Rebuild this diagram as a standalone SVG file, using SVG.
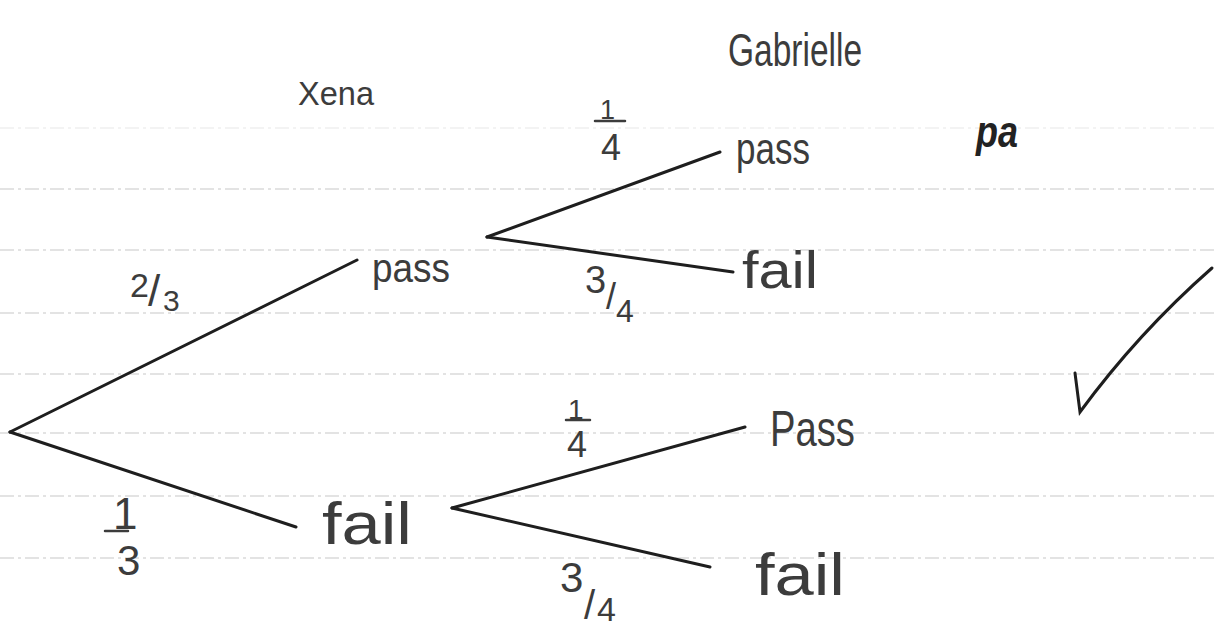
<svg xmlns="http://www.w3.org/2000/svg" width="1216" height="633" viewBox="0 0 1216 633">
<style>
.rule{stroke:#dadada;stroke-width:1.5;stroke-dasharray:14 4 3 4}
.t{font-family:"Liberation Sans","DejaVu Sans",sans-serif;fill:#3c3c3c}
.br{stroke:#1e1e1e;stroke-width:3;fill:none;stroke-linecap:round}
.bar{stroke:#3c3c3c;stroke-width:2.5;stroke-linecap:round}
</style>
<rect width="1216" height="633" fill="#ffffff"/>
<g id="rules">
<line class="rule" x1="0" y1="128" x2="1216" y2="128" opacity="0.4"/>
<line class="rule" x1="0" y1="189" x2="1216" y2="189"/>
<line class="rule" x1="0" y1="250" x2="1216" y2="250"/>
<line class="rule" x1="0" y1="313" x2="1216" y2="313"/>
<line class="rule" x1="0" y1="374" x2="1216" y2="374"/>
<line class="rule" x1="0" y1="433" x2="1216" y2="433"/>
<line class="rule" x1="0" y1="496" x2="1216" y2="496"/>
<line class="rule" x1="0" y1="558" x2="1216" y2="558"/>
</g>
<g id="connectors">
<line class="br" x1="10" y1="432" x2="357" y2="260"/>
<line class="br" x1="10" y1="432" x2="296" y2="527"/>
<line class="br" x1="487" y1="237" x2="720" y2="152"/>
<line class="br" x1="487" y1="237" x2="733" y2="272"/>
<line class="br" x1="452" y1="508" x2="745" y2="427"/>
<line class="br" x1="452" y1="508" x2="710" y2="567"/>
</g>
<g id="heading-xena"><text class="t" x="298" y="105" font-size="34" textLength="76" lengthAdjust="spacingAndGlyphs">Xena</text></g>
<g id="heading-gabrielle"><text class="t" x="728" y="66" font-size="46" textLength="134" lengthAdjust="spacingAndGlyphs">Gabrielle</text></g>
<g id="node-x-pass"><text class="t" x="372" y="282" font-size="40" textLength="78" lengthAdjust="spacingAndGlyphs">pass</text></g>
<g id="node-x-fail"><text class="t" x="322" y="544" font-size="60" textLength="90" lengthAdjust="spacingAndGlyphs">fail</text></g>
<g id="node-g-pass1"><text class="t" x="736" y="164" font-size="44" textLength="74" lengthAdjust="spacingAndGlyphs">pass</text></g>
<g id="node-g-fail1"><text class="t" x="742" y="288" font-size="52" textLength="76" lengthAdjust="spacingAndGlyphs">fail</text></g>
<g id="node-g-pass2"><text class="t" x="770" y="446" font-size="50" textLength="85" lengthAdjust="spacingAndGlyphs">Pass</text></g>
<g id="node-g-fail2"><text class="t" x="755" y="595" font-size="60" textLength="90" lengthAdjust="spacingAndGlyphs">fail</text></g>
<g id="labels">
<text class="t" x="130" y="297" font-size="34">2</text>
<text class="t" x="148" y="306" font-size="44">/</text>
<text class="t" x="163" y="311" font-size="30">3</text>
<text class="t" x="113" y="529" font-size="44">1</text>
<line class="bar" x1="105" y1="531" x2="128" y2="531"/>
<text class="t" x="117" y="575" font-size="42">3</text>
<text class="t" x="600" y="119" font-size="27">1</text>
<line class="bar" x1="595" y1="121" x2="625" y2="121"/>
<text class="t" x="601" y="160" font-size="36">4</text>
<text class="t" x="585" y="293" font-size="38">3</text>
<text class="t" x="606" y="309" font-size="36">/</text>
<text class="t" x="616" y="322" font-size="32">4</text>
<text class="t" x="568" y="419" font-size="28">1</text>
<line class="bar" x1="566" y1="420" x2="590" y2="420"/>
<text class="t" x="567" y="457" font-size="36">4</text>
<text class="t" x="560" y="592" font-size="42">3</text>
<text class="t" x="584" y="619" font-size="40">/</text>
<text class="t" x="597" y="621" font-size="34">4</text>
<text x="976" y="147" font-family="Liberation Sans, sans-serif" font-size="44" font-weight="bold" font-style="italic" fill="#222" textLength="42" lengthAdjust="spacingAndGlyphs">pa</text>
</g>
<g id="tick"><path class="br" d="M1075,373 L1080,412 Q1138,333 1212,268" stroke-width="2.5"/></g>
</svg>
